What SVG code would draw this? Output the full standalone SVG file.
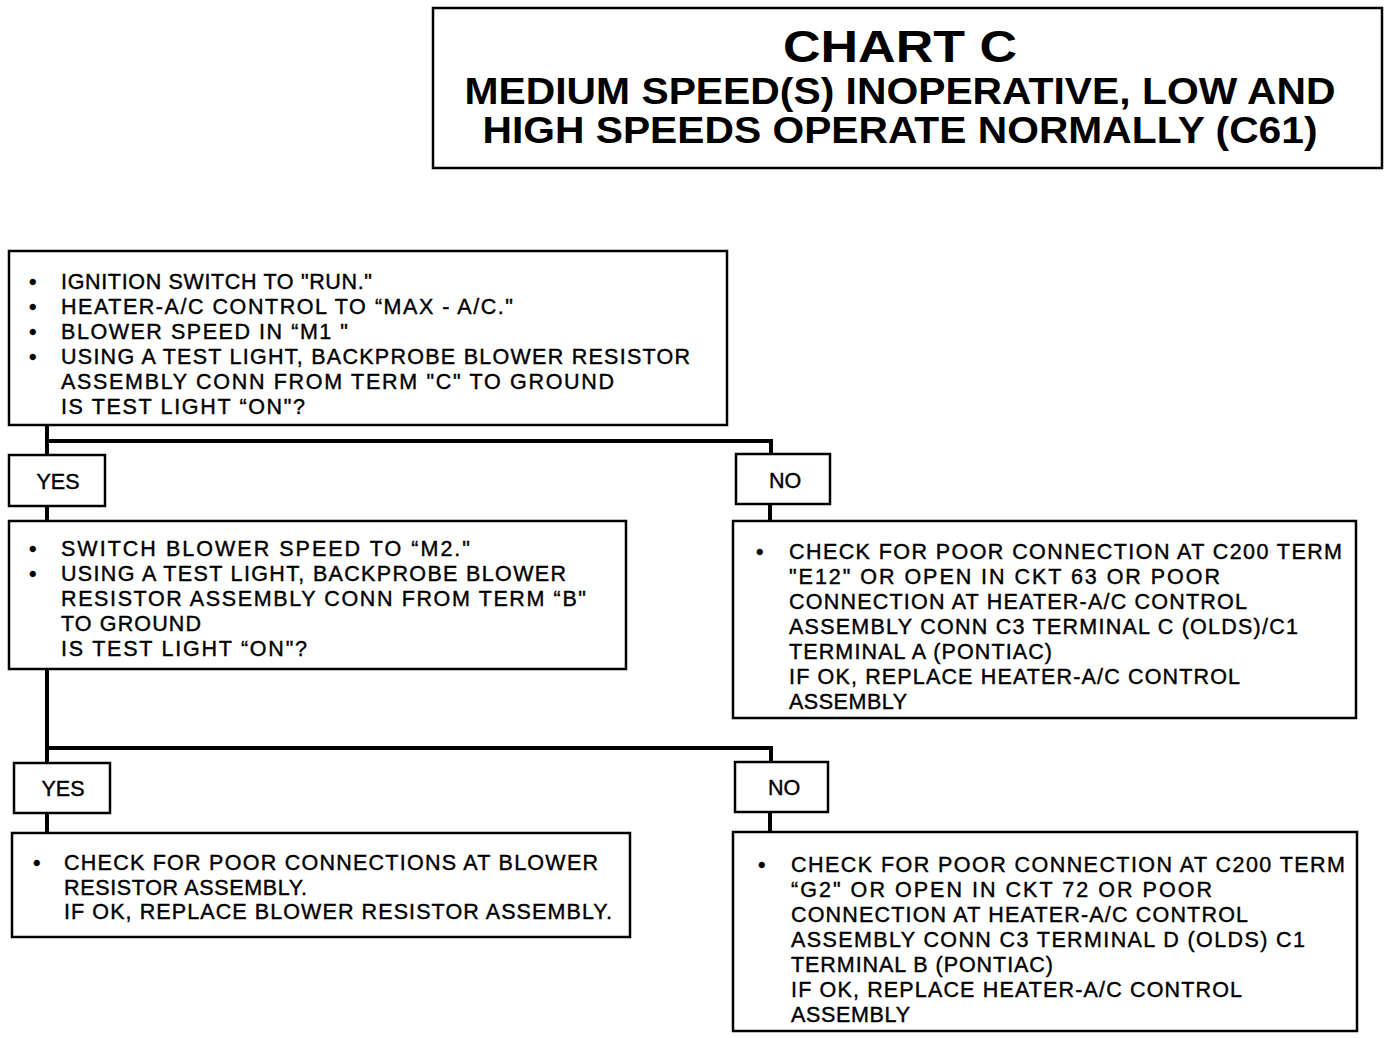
<svg xmlns="http://www.w3.org/2000/svg" width="1392" height="1038" viewBox="0 0 1392 1038">
<style>
.box{fill:#fff;stroke:#000;stroke-width:2.5}
.lbl{fill:#fff;stroke:#000;stroke-width:2.5}
.t{font-family:"Liberation Sans",Arial,sans-serif;font-size:21.5px;fill:#000;stroke:#000;stroke-width:0.4}
.c{text-anchor:middle}
.h{font-family:"Liberation Sans",Arial,sans-serif;font-weight:bold;fill:#000;text-anchor:middle}
.wire{fill:none;stroke:#000;stroke-width:4}
</style>
<rect width="1392" height="1038" fill="#fff"/>
<g id="title">
<rect class="box" x="433" y="8" width="949" height="160"/>
<text class="h" x="900" y="62" font-size="44" textLength="234" lengthAdjust="spacingAndGlyphs">CHART C</text>
<text class="h" x="900" y="104" font-size="36" textLength="871" lengthAdjust="spacingAndGlyphs">MEDIUM SPEED(S) INOPERATIVE, LOW AND</text>
<text class="h" x="900" y="143" font-size="36" textLength="835" lengthAdjust="spacingAndGlyphs">HIGH SPEEDS OPERATE NORMALLY (C61)</text>
</g>
<g id="connectors">
<path class="wire" d="M47 425 V455 M47 441 H771 V454"/>
<path class="wire" d="M47 506 V521 M770 504 V521"/>
<path class="wire" d="M47 669 V763 M47 748 H771 V762"/>
<path class="wire" d="M47 813 V833 M770 812 V832"/>
</g>
<g id="step1">
<rect class="box" x="9" y="251" width="718" height="174"/>
<text class="t" x="29" y="289">•</text><text class="t" x="61" y="289" textLength="311" lengthAdjust="spacing">IGNITION SWITCH TO "RUN."</text>
<text class="t" x="29" y="314">•</text><text class="t" x="61" y="314" textLength="452" lengthAdjust="spacing">HEATER-A/C CONTROL TO “MAX - A/C."</text>
<text class="t" x="29" y="339">•</text><text class="t" x="61" y="339" textLength="287" lengthAdjust="spacing">BLOWER SPEED IN “M1 "</text>
<text class="t" x="29" y="364">•</text><text class="t" x="61" y="364" textLength="629" lengthAdjust="spacing">USING A TEST LIGHT, BACKPROBE BLOWER RESISTOR</text>
<text class="t" x="61" y="389" textLength="553" lengthAdjust="spacing">ASSEMBLY CONN FROM TERM "C" TO GROUND</text>
<text class="t" x="61" y="414" textLength="244" lengthAdjust="spacing">IS TEST LIGHT “ON"?</text>
</g>
<g id="yes1">
<rect class="lbl" x="9" y="455" width="96" height="51"/>
<text class="t c" x="58" y="489">YES</text>
</g>
<g id="no1">
<rect class="lbl" x="736" y="454" width="94" height="50"/>
<text class="t c" x="785" y="488">NO</text>
</g>
<g id="step2">
<rect class="box" x="9" y="521" width="617" height="148"/>
<text class="t" x="29" y="556">•</text><text class="t" x="61" y="556" textLength="409" lengthAdjust="spacing">SWITCH BLOWER SPEED TO “M2."</text>
<text class="t" x="29" y="581">•</text><text class="t" x="61" y="581" textLength="505" lengthAdjust="spacing">USING A TEST LIGHT, BACKPROBE BLOWER</text>
<text class="t" x="61" y="606" textLength="525" lengthAdjust="spacing">RESISTOR ASSEMBLY CONN FROM TERM “B"</text>
<text class="t" x="61" y="631" textLength="140" lengthAdjust="spacing">TO GROUND</text>
<text class="t" x="61" y="656" textLength="246" lengthAdjust="spacing">IS TEST LIGHT “ON"?</text>
</g>
<g id="fix1">
<rect class="box" x="733" y="521" width="623" height="197"/>
<text class="t" x="756" y="559">•</text><text class="t" x="789" y="559" textLength="553" lengthAdjust="spacing">CHECK FOR POOR CONNECTION AT C200 TERM</text>
<text class="t" x="789" y="584" textLength="431" lengthAdjust="spacing">"E12" OR OPEN IN CKT 63 OR POOR</text>
<text class="t" x="789" y="609" textLength="458" lengthAdjust="spacing">CONNECTION AT HEATER-A/C CONTROL</text>
<text class="t" x="789" y="634" textLength="509" lengthAdjust="spacing">ASSEMBLY CONN C3 TERMINAL C (OLDS)/C1</text>
<text class="t" x="789" y="659" textLength="263" lengthAdjust="spacing">TERMINAL A (PONTIAC)</text>
<text class="t" x="789" y="684" textLength="451" lengthAdjust="spacing">IF OK, REPLACE HEATER-A/C CONTROL</text>
<text class="t" x="789" y="709" textLength="118" lengthAdjust="spacing">ASSEMBLY</text>
</g>
<g id="yes2">
<rect class="lbl" x="14" y="763" width="96" height="50"/>
<text class="t c" x="63" y="796">YES</text>
</g>
<g id="no2">
<rect class="lbl" x="735" y="762" width="93" height="50"/>
<text class="t c" x="784" y="795">NO</text>
</g>
<g id="fix2">
<rect class="box" x="12" y="833" width="618" height="104"/>
<text class="t" x="33" y="870">•</text><text class="t" x="64" y="870" textLength="534" lengthAdjust="spacing">CHECK FOR POOR CONNECTIONS AT BLOWER</text>
<text class="t" x="64" y="895" textLength="243" lengthAdjust="spacing">RESISTOR ASSEMBLY.</text>
<text class="t" x="64" y="919" textLength="548" lengthAdjust="spacing">IF OK, REPLACE BLOWER RESISTOR ASSEMBLY.</text>
</g>
<g id="fix3">
<rect class="box" x="733" y="832" width="624" height="199"/>
<text class="t" x="758" y="872">•</text><text class="t" x="791" y="872" textLength="554" lengthAdjust="spacing">CHECK FOR POOR CONNECTION AT C200 TERM</text>
<text class="t" x="791" y="897" textLength="421" lengthAdjust="spacing">“G2" OR OPEN IN CKT 72 OR POOR</text>
<text class="t" x="791" y="922" textLength="457" lengthAdjust="spacing">CONNECTION AT HEATER-A/C CONTROL</text>
<text class="t" x="791" y="947" textLength="514" lengthAdjust="spacing">ASSEMBLY CONN C3 TERMINAL D (OLDS) C1</text>
<text class="t" x="791" y="972" textLength="262" lengthAdjust="spacing">TERMINAL B (PONTIAC)</text>
<text class="t" x="791" y="997" textLength="451" lengthAdjust="spacing">IF OK, REPLACE HEATER-A/C CONTROL</text>
<text class="t" x="791" y="1022" textLength="119" lengthAdjust="spacing">ASSEMBLY</text>
</g>
</svg>
